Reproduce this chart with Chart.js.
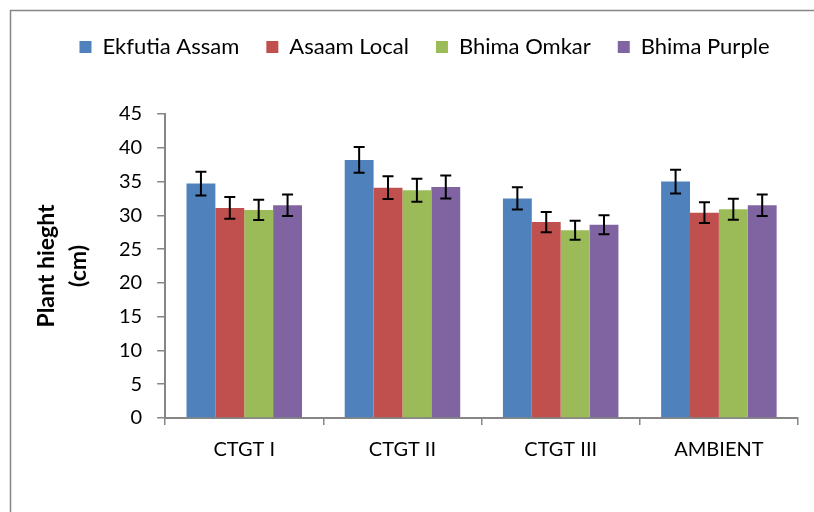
<!DOCTYPE html>
<html>
<head>
<meta charset="utf-8">
<script src="https://cdn.jsdelivr.net/npm/chart.js@4/dist/chart.umd.min.js"></script>
<style>
  html, body { margin: 0; padding: 0; background: #fff; }
  #wrap { width: 814px; height: 512px; position: relative; }
</style>
</head>
<body>
<div id="wrap"><canvas id="c" width="814" height="512"></canvas></div>
<script>
// Treatments on the x axis
const categories = ['CTGT I', 'CTGT II', 'CTGT III', 'AMBIENT'];

// Mean plant height (cm) per variety
const ekfutiaAssam = [34.7, 38.2, 32.5, 35.0];
const asaamLocal   = [31.1, 34.1, 29.0, 30.4];
const bhimaOmkar   = [30.8, 33.7, 27.8, 30.9];
const bhimaPurple  = [31.5, 34.2, 28.6, 31.5];

// Standard error for each mean
const ekfutiaAssamErr = [1.75, 1.9, 1.65, 1.75];
const asaamLocalErr   = [1.6, 1.7, 1.5, 1.55];
const bhimaOmkarErr   = [1.5, 1.7, 1.4, 1.55];
const bhimaPurpleErr  = [1.6, 1.7, 1.4, 1.6];

const yTicks = [0, 5, 10, 15, 20, 25, 30, 35, 40, 45];

const FONT = 'Lato, "Open Sans", sans-serif';
const AXIS_GREY = '#868686';

// Frame around the chart area
const framePlugin = {
  id: 'frame',
  beforeDraw(chart) {
    const ctx = chart.ctx;
    ctx.save();
    ctx.fillStyle = '#fff';
    ctx.fillRect(0, 0, chart.width, chart.height);
    ctx.strokeStyle = AXIS_GREY;
    ctx.lineWidth = 1.5;
    ctx.strokeRect(10.5, 10.5, chart.width + 20, chart.height + 20);
    ctx.restore();
  }
};

// Extra room below the legend, and a small shift to the right
const legendGapPlugin = {
  id: 'legendGap',
  beforeInit(chart) {
    const origFit = chart.legend.fit;
    chart.legend.fit = function () {
      origFit.call(this);
      this.height += 46;
    };
  },
  afterLayout(chart) {
    chart.legend.left += 10;
    chart.legend.right += 10;
  }
};

// Error bars drawn through the value scale
const errorBarPlugin = {
  id: 'errorBars',
  afterDatasetsDraw(chart) {
    const ctx = chart.ctx;
    const y = chart.scales.y;
    ctx.save();
    ctx.strokeStyle = '#000';
    ctx.lineWidth = 2;
    chart.data.datasets.forEach((ds, di) => {
      const meta = chart.getDatasetMeta(di);
      meta.data.forEach((bar, i) => {
        const v = ds.data[i];
        const e = ds.errors[i];
        const x = bar.x;
        const yTop = y.getPixelForValue(v + e);
        const yBot = y.getPixelForValue(v - e);
        const cap = 5.5;
        ctx.beginPath();
        ctx.moveTo(x, yTop); ctx.lineTo(x, yBot);
        ctx.moveTo(x - cap, yTop); ctx.lineTo(x + cap, yTop);
        ctx.moveTo(x - cap, yBot); ctx.lineTo(x + cap, yBot);
        ctx.stroke();
      });
    });
    ctx.restore();
  }
};

function series(label, data, errors, color) {
  return {
    label, data, errors,
    backgroundColor: color,
    borderColor: color,
    borderWidth: 0,
    barPercentage: 1.0,
    categoryPercentage: 0.73
  };
}

new Chart(document.getElementById('c'), {
  type: 'bar',
  data: {
    labels: categories,
    datasets: [
      series('Ekfutia Assam', ekfutiaAssam, ekfutiaAssamErr, '#4F81BD'),
      series('Asaam Local', asaamLocal, asaamLocalErr, '#C0504D'),
      series('Bhima Omkar', bhimaOmkar, bhimaOmkarErr, '#9BBB59'),
      series('Bhima Purple', bhimaPurple, bhimaPurpleErr, '#8064A2')
    ]
  },
  options: {
    responsive: false,
    animation: false,
    devicePixelRatio: 1,
    layout: { padding: { left: 31, right: 16, top: 9, bottom: 37 } },
    plugins: {
      legend: {
        position: 'top',
        labels: {
          boxWidth: 12,
          boxHeight: 12,
          padding: 27,
          color: '#000',
          font: { family: FONT, size: 22 }
        }
      },
      tooltip: { enabled: false }
    },
    scales: {
      x: {
        offset: true,
        grid: {
          offset: true,
          drawOnChartArea: false,
          drawTicks: true,
          tickLength: 7,
          color: AXIS_GREY,
          lineWidth: 1.5
        },
        border: { color: AXIS_GREY, width: 2 },
        ticks: {
          color: '#000',
          padding: 13,
          font: { family: FONT, size: 20 }
        }
      },
      y: {
        min: 0,
        max: 45,
        afterBuildTicks(scale) {
          scale.ticks = yTicks.map(v => ({ value: v }));
        },
        grid: {
          drawOnChartArea: false,
          drawTicks: true,
          tickLength: 8,
          color: AXIS_GREY,
          lineWidth: 1.5
        },
        border: { color: AXIS_GREY, width: 2 },
        ticks: {
          color: '#000',
          padding: 15,
          font: { family: FONT, size: 20 }
        },
        title: {
          display: true,
          text: ['Plant hieght', '(cm)'],
          color: '#000',
          padding: { top: 0, bottom: 9 },
          font: { family: FONT, size: 23, weight: 'bold', lineHeight: 1.39 }
        }
      }
    }
  },
  plugins: [framePlugin, legendGapPlugin, errorBarPlugin]
});
</script>
</body>
</html>
